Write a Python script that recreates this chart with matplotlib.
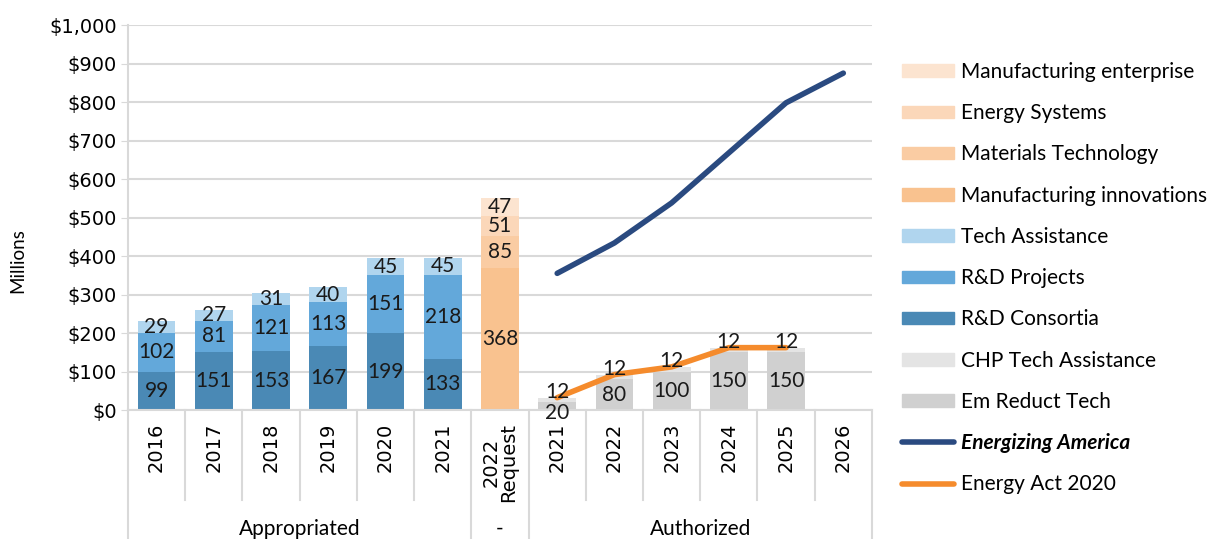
import matplotlib.pyplot as plt
from matplotlib.patches import Patch
from matplotlib.lines import Line2D
import matplotlib.transforms as mtransforms
import numpy as np

plt.rcParams['font.family'] = ['Lato', 'DejaVu Sans']

cats = ['2016', '2017', '2018', '2019', '2020', '2021', '2022\nRequest',
        '2021', '2022', '2023', '2024', '2025', '2026']
groups = ['Appropriated', '-', 'Authorized']

# stacked series, bottom to top
rd_consortia = [99, 151, 153, 167, 199, 133, 0, 0, 0, 0, 0, 0, 0]
rd_projects = [102, 81, 121, 113, 151, 218, 0, 0, 0, 0, 0, 0, 0]
tech_assist = [29, 27, 31, 40, 45, 45, 0, 0, 0, 0, 0, 0, 0]
mfg_innov = [0, 0, 0, 0, 0, 0, 368, 0, 0, 0, 0, 0, 0]
materials = [0, 0, 0, 0, 0, 0, 85, 0, 0, 0, 0, 0, 0]
energy_sys = [0, 0, 0, 0, 0, 0, 51, 0, 0, 0, 0, 0, 0]
mfg_ent = [0, 0, 0, 0, 0, 0, 47, 0, 0, 0, 0, 0, 0]
em_reduct = [0, 0, 0, 0, 0, 0, 0, 20, 80, 100, 150, 150, 0]
chp_assist = [0, 0, 0, 0, 0, 0, 0, 12, 12, 12, 12, 12, 0]

# lines
energizing = [np.nan] * 7 + [355, 434, 538, 668, 798, 875]
energy_act = [np.nan] * 7 + [32, 92, 112, 162, 162, np.nan]

series = [
    ('R&D Consortia', rd_consortia, '#4a89b5'),
    ('R&D Projects', rd_projects, '#63a8da'),
    ('Tech Assistance', tech_assist, '#b0d5ee'),
    ('Manufacturing innovations', mfg_innov, '#f9c28f'),
    ('Materials Technology', materials, '#facca3'),
    ('Energy Systems', energy_sys, '#fbd7b9'),
    ('Manufacturing enterprise', mfg_ent, '#fce4d0'),
    ('Em Reduct Tech', em_reduct, '#d0d0d0'),
    ('CHP Tech Assistance', chp_assist, '#e4e4e4'),
]

fig = plt.figure(figsize=(12.11, 5.39), dpi=100)
ax = fig.add_axes([0.1057, 0.2393, 0.6143, 0.7143])

x = np.arange(len(cats))
bottom = np.zeros(len(cats))
for name, vals, col in series:
    vals = np.array(vals, dtype=float)
    ax.bar(x, vals, 0.66, bottom=bottom, color=col, zorder=2)
    for xi, v, b in zip(x, vals, bottom):
        if not v:
            continue
        dy = 0
        if name == 'CHP Tech Assistance':
            dy = 6
        elif name == 'Em Reduct Tech' and v < 30:
            dy = -5
        ax.annotate(str(int(v)), (xi, b + v / 2), xytext=(0, dy),
                    textcoords='offset points', ha='center', va='center',
                    fontsize=15, color='#1a1a1a', zorder=4)
    bottom += vals

ax.plot(x, energizing, color='#2a4a80', lw=4, solid_capstyle='round', zorder=3)
ax.plot(x, energy_act, color='#f58b2c', lw=4, solid_capstyle='round', zorder=3)

ax.set_xlim(-0.5, len(cats) - 0.5)
ax.set_ylim(0, 1000)
ax.set_yticks(range(0, 1001, 100))
ax.set_yticklabels(['${:,}'.format(v) for v in range(0, 1001, 100)],
                   fontsize=14, family='DejaVu Sans')
ax.grid(axis='y', color='#d9d9d9', lw=1.5, zorder=0)
ax.tick_params(axis='y', length=5, color='#d9d9d9', pad=3)
ax.tick_params(axis='x', length=0, pad=9)
ax.set_xticks(x)
ax.set_xticklabels(cats, rotation=90, fontsize=14, va='top', ha='center',
                   family='DejaVu Sans', linespacing=0.95)
for s in ['top', 'right']:
    ax.spines[s].set_visible(False)
ax.spines['left'].set_color('#d9d9d9')
ax.spines['bottom'].set_color('#d9d9d9')
ax.spines['left'].set_linewidth(1.5)
ax.spines['bottom'].set_linewidth(1.5)
ax.set_ylabel('Millions', fontsize=13.5)
ax.yaxis.set_label_coords(-0.137, 0.387)

# category separators and group separators
trans = mtransforms.blended_transform_factory(ax.transData, ax.transAxes)
for k in range(len(cats) - 1):
    if k + 0.5 in (5.5, 6.5):
        continue
    ax.plot([k + 0.5, k + 0.5], [0, -0.235], transform=trans, color='#d9d9d9',
            lw=1.5, clip_on=False)
for b in (-0.5, 5.5, 6.5, 12.5):
    ax.plot([b, b], [0, -0.34], transform=trans, color='#d9d9d9', lw=1.5,
            clip_on=False)
for lab, pos in zip(groups, (2.5, 6, 9.5)):
    ax.text(pos, -0.308, lab, transform=trans, ha='center', va='center',
            fontsize=15)

handles = [
    Patch(color='#fce4d0', label='Manufacturing enterprise'),
    Patch(color='#fbd7b9', label='Energy Systems'),
    Patch(color='#facca3', label='Materials Technology'),
    Patch(color='#f9c28f', label='Manufacturing innovations'),
    Patch(color='#b0d5ee', label='Tech Assistance'),
    Patch(color='#63a8da', label='R&D Projects'),
    Patch(color='#4a89b5', label='R&D Consortia'),
    Patch(color='#e4e4e4', label='CHP Tech Assistance'),
    Patch(color='#d0d0d0', label='Em Reduct Tech'),
    Line2D([], [], color='#2a4a80', lw=4, solid_capstyle='round',
           label='Energizing America'),
    Line2D([], [], color='#f58b2c', lw=4, solid_capstyle='round',
           label='Energy Act 2020'),
]
leg = fig.legend(handles=handles, loc='upper left', bbox_to_anchor=(0.745, 0.885),
                 frameon=False, fontsize=15, handlelength=2.5, handleheight=0.55,
                 handletextpad=0.3, labelspacing=1.02, borderaxespad=0,
                 borderpad=0)
for t in leg.get_texts():
    if t.get_text() == 'Energizing America':
        t.set_fontweight('bold')
        t.set_fontstyle('italic')

plt.savefig('out.png', dpi=100)
